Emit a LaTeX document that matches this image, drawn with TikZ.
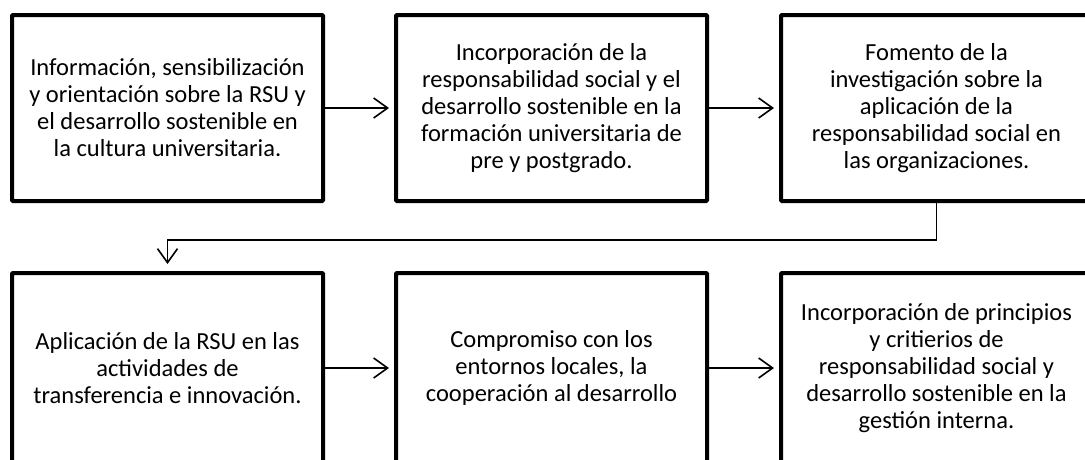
\documentclass[tikz,border=0pt]{standalone}
\usepackage{fontspec}
\setmainfont{Carlito}
\usetikzlibrary{arrows.meta}
\tikzset{
  box/.style={draw, line width=4pt, rounded corners=1pt, minimum width=311pt, minimum height=186pt,
    align=center, inner sep=0pt, font=\fontsize{24.5pt}{27pt}\selectfont, fill=white},
  arr/.style={line width=1.6pt, -{Straight Barb[length=14pt,width=20pt,line width=1.6pt]}},
}
\begin{document}
\begin{tikzpicture}[x=1pt,y=-1pt]
\useasboundingbox (0,0) rectangle (1085,459);
\clip (0,0) rectangle (1085,459);
\node[box] (b1) at (167.5,108) {Información, sensibilización\\y orientación sobre la RSU y\\el desarrollo sostenible en\\la cultura universitaria.};
\node[box] (b2) at (551.5,108) {Incorporación de la\\responsabilidad social y el\\desarrollo sostenible en la\\formación universitaria de\\pre y postgrado.};
\node[box] (b3) at (936.5,108) {Fomento de la\\investigación sobre la\\aplicación de la\\responsabilidad social en\\las organizaciones.};
\node[box, minimum height=190pt] (b4) at (167.5,368) {Aplicación de la RSU en las\\actividades de\\transferencia e innovación.};
\node[box, minimum height=190pt] (b5) at (551.5,368) {Compromiso con los\\entornos locales, la\\cooperación al desarrollo};
\node[box, minimum height=190pt] (b6) at (936.5,368) {Incorporación de principios\\y critierios de\\responsabilidad social y\\desarrollo sostenible en la\\gestión interna.};
\draw[arr, shorten >=5pt] (b1.east) -- (b2.west);
\draw[arr, shorten >=5pt] (b2.east) -- (b3.west);
\draw[arr, shorten >=5pt] (b4.east) -- (b5.west);
\draw[arr, shorten >=5pt] (b5.east) -- (b6.west);
\draw[arr, shorten >=7pt] (b3.south) -- ++(0,37) -| (b4.north);
\end{tikzpicture}
\end{document}
